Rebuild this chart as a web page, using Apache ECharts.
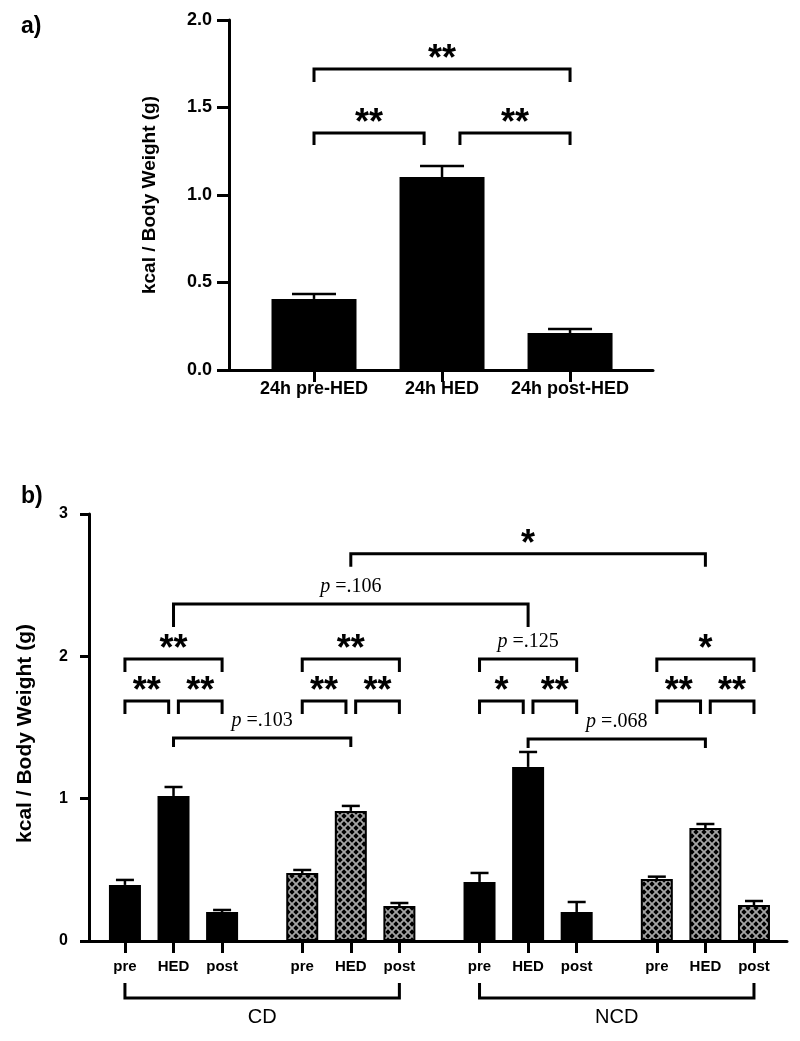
<!DOCTYPE html>
<html><head><meta charset="utf-8">
<script src="https://cdn.jsdelivr.net/npm/echarts@6/dist/echarts.min.js"></script>
<style>html,body{margin:0;padding:0;background:#fff}#c{width:800px;height:1041px}</style>
</head><body><div id="c"></div>
<script>
// ---------------- DATA ----------------
// Panel a
const catsA = ['24h pre-HED', '24h HED', '24h post-HED'];
const meanA = [0.406, 1.103, 0.211];
const semA  = [0.028, 0.063, 0.023];
// Panel b
const phasesB = ['pre', 'HED', 'post'];
const dietsB = ['CD', 'NCD'];
const cdSolidMean   = [0.394, 1.019, 0.204];
const cdSolidSem    = [0.035, 0.063, 0.014];
const cdHatchMean   = [0.478, 0.914, 0.246];
const cdHatchSem    = [0.021, 0.035, 0.021];
const ncdSolidMean  = [0.415, 1.223, 0.204];
const ncdSolidSem   = [0.063, 0.105, 0.070];
const ncdHatchMean  = [0.436, 0.794, 0.253];
const ncdHatchSem   = [0.016, 0.028, 0.028];
// significance annotations (bar indices, level on y axis, label)
const bracketsA = [
  {from: 0, to: 2, level: 1.72,  label: '**', leg: 13},
  {from: 0, to: 1, level: 1.354, label: '**', leg: 12, trim: 'end'},
  {from: 1, to: 2, level: 1.354, label: '**', leg: 12, trim: 'start'}
];
const bracketsB = [
  {from: 0, to: 1, level: 1.687, label: '**', leg: 13, trim: 'end'},
  {from: 1, to: 2, level: 1.687, label: '**', leg: 13, trim: 'start'},
  {from: 0, to: 2, level: 1.982, label: '**', leg: 13},
  {from: 3, to: 4, level: 1.687, label: '**', leg: 13, trim: 'end'},
  {from: 4, to: 5, level: 1.687, label: '**', leg: 13, trim: 'start'},
  {from: 3, to: 5, level: 1.982, label: '**', leg: 13},
  {from: 6, to: 7, level: 1.687, label: '*',  leg: 13, trim: 'end'},
  {from: 7, to: 8, level: 1.687, label: '**', leg: 13, trim: 'start'},
  {from: 6, to: 8, level: 1.982, label: 'p =.125', leg: 13},
  {from: 9, to: 10, level: 1.687, label: '**', leg: 13, trim: 'end'},
  {from: 10, to: 11, level: 1.687, label: '**', leg: 13, trim: 'start'},
  {from: 9, to: 11, level: 1.982, label: '*', leg: 13},
  {from: 1, to: 4, level: 1.427, label: 'p =.103', leg: 9},
  {from: 7, to: 10, level: 1.42, label: 'p =.068', leg: 9},
  {from: 1, to: 7, level: 2.368, label: 'p =.106', leg: 23},
  {from: 4, to: 10, level: 2.72, label: '*', leg: 13}
];

// ---------------- LAYOUT HELPERS ----------------
const GROUP_STEP = 3.65;       // spacing between bar groups in panel b (axis units)
const posA = catsA.map((c, i) => i);
const subgroupsB = [
  {mean: cdSolidMean, sem: cdSolidSem, hatch: false},
  {mean: cdHatchMean, sem: cdHatchSem, hatch: true},
  {mean: ncdSolidMean, sem: ncdSolidSem, hatch: false},
  {mean: ncdHatchMean, sem: ncdHatchSem, hatch: true}
];
const posB = [];
subgroupsB.forEach((g, gi) => phasesB.forEach((p, i) => posB.push(+(gi * GROUP_STEP + i).toFixed(4))));
const labelB = [];
subgroupsB.forEach(() => phasesB.forEach(p => labelB.push(p)));

function makeHatch() {
  const s = 8;
  const c = document.createElement('canvas'); c.width = s; c.height = s;
  const g = c.getContext('2d');
  g.fillStyle = '#a4a4a4'; g.fillRect(0, 0, s, s);
  g.fillStyle = '#000';
  const d = (cx, cy, r) => { g.beginPath(); g.moveTo(cx, cy - r); g.lineTo(cx + r, cy); g.lineTo(cx, cy + r); g.lineTo(cx - r, cy); g.closePath(); g.fill(); };
  [[0, 0], [s, 0], [0, s], [s, s], [s / 2, s / 2]].forEach(p => d(p[0], p[1], 2.7));
  return c;
}
const hatch = {image: makeHatch(), repeat: 'repeat'};

const STAR_FONT = 'bold 36px "Liberation Sans", Arial, sans-serif';
function labelEl(text, x, lineY) {
  if (text.charAt(0) === 'p') {
    return {type: 'text', x: x, y: lineY - 17, style: {
      text: '{i|p}' + text.slice(1), fill: '#000', align: 'center', verticalAlign: 'middle',
      fontFamily: '"Liberation Serif", "Times New Roman", serif', fontSize: 20,
      rich: {i: {fontStyle: 'italic', fontFamily: '"Liberation Serif", "Times New Roman", serif', fontSize: 20}}
    }};
  }
  return {type: 'text', x: x, y: lineY - 9, style: {
    text: text, fill: '#000', align: 'center', verticalAlign: 'middle', font: STAR_FONT
  }};
}

function bracketSeries(defs, pos, trimAmt, xIdx) {
  const data = defs.map(b => {
    let x1 = pos[b.from], x2 = pos[b.to];
    if (b.trim === 'end') x2 -= trimAmt;
    if (b.trim === 'start') x1 += trimAmt;
    return [x1, b.level, x2];
  });
  return {
    type: 'custom', xAxisIndex: xIdx, yAxisIndex: xIdx, data: data, z: 5, silent: true,
    encode: {x: [0, 2], y: 1},
    renderItem: (params, api) => {
      const b = defs[params.dataIndex];
      const a = api.coord([api.value(0), api.value(1)]);
      const c = api.coord([api.value(2), api.value(1)]);
      return {type: 'group', children: [
        {type: 'polyline', shape: {points: [[a[0], a[1] + b.leg], [a[0], a[1]], [c[0], c[1]], [c[0], c[1] + b.leg]]},
         style: {stroke: '#000', lineWidth: 3, fill: null, lineJoin: 'miter'}},
        labelEl(b.label, (a[0] + c[0]) / 2, a[1])
      ]};
    }
  };
}

function errSeries(data, capHalf, idx) {
  return {
    type: 'custom', xAxisIndex: idx, yAxisIndex: idx, data: data, z: 4, silent: true,
    encode: {x: 0, y: 1},
    renderItem: (params, api) => {
      const x = api.value(0), y = api.value(1), e = api.value(2);
      const p0 = api.coord([x, y]), p1 = api.coord([x, y + e]);
      return {type: 'group', children: [
        {type: 'line', shape: {x1: p0[0], y1: p0[1], x2: p1[0], y2: p1[1]}, style: {stroke: '#000', lineWidth: 2.5}},
        {type: 'line', shape: {x1: p1[0] - capHalf, y1: p1[1], x2: p1[0] + capHalf, y2: p1[1]}, style: {stroke: '#000', lineWidth: 2.5}}
      ]};
    }
  };
}

// ---------------- SERIES DATA ----------------
const barA = meanA.map((v, i) => [posA[i], v]);
const errA = meanA.map((v, i) => [posA[i], v, semA[i]]);
const solidB = [], hatchB = [], errB = [];
subgroupsB.forEach((g, gi) => g.mean.forEach((v, i) => {
  const x = posB[gi * 3 + i];
  (g.hatch ? hatchB : solidB).push([x, v]);
  errB.push([x, v, g.sem[i]]);
}));
const dietRanges = dietsB.map((d, di) => [posB[di * 6], 0, posB[di * 6 + 5]]);

const axisLineStyle = {show: true, onZero: false, lineStyle: {color: '#000', width: 3}};
const tickStyle = (len) => ({show: true, inside: false, length: len, lineStyle: {color: '#000', width: 3}});

const option = {
  animation: false,
  backgroundColor: '#fff',
  title: [
    {text: 'a)', left: 16, top: 10, textStyle: {fontFamily: '"Liberation Sans", Arial', fontWeight: 'bold', fontSize: 23, color: '#000'}},
    {text: 'b)', left: 16, top: 480, textStyle: {fontFamily: '"Liberation Sans", Arial', fontWeight: 'bold', fontSize: 23, color: '#000'}}
  ],
  grid: [
    {left: 229, top: 20, width: 424, height: 350},
    {left: 89, top: 514, width: 698, height: 427}
  ],
  xAxis: [
    {type: 'value', gridIndex: 0, min: -0.664, max: 2.648, splitLine: {show: false},
     axisLine: axisLineStyle, axisTick: Object.assign(tickStyle(12), {customValues: posA}),
     axisLabel: {customValues: posA, margin: 10, color: '#000', fontWeight: 'bold', fontSize: 18, fontFamily: '"Liberation Sans", Arial',
       formatter: v => { const i = posA.findIndex(p => Math.abs(p - v) < 1e-6); return i >= 0 ? catsA[i] : ''; }}},
    {type: 'value', gridIndex: 1, min: -0.74, max: 13.63, splitLine: {show: false},
     axisLine: axisLineStyle, axisTick: Object.assign(tickStyle(12), {customValues: posB}),
     axisLabel: {customValues: posB, margin: 18, color: '#000', fontWeight: 'bold', fontSize: 15, fontFamily: '"Liberation Sans", Arial',
       formatter: v => { const i = posB.findIndex(p => Math.abs(p - v) < 1e-6); return i >= 0 ? labelB[i] : ''; }}}
  ],
  yAxis: [
    {type: 'value', gridIndex: 0, min: 0, max: 2, interval: 0.5, splitLine: {show: false},
     axisLine: axisLineStyle, axisTick: tickStyle(12),
     axisLabel: {margin: 17, color: '#000', fontWeight: 'bold', fontSize: 18, fontFamily: '"Liberation Sans", Arial', formatter: v => v.toFixed(1)},
     name: 'kcal / Body Weight (g)', nameLocation: 'middle', nameGap: 70,
     nameTextStyle: {color: '#000', fontWeight: 'bold', fontSize: 19, lineHeight: 19, fontFamily: '"Liberation Sans", Arial'}},
    {type: 'value', gridIndex: 1, min: 0, max: 3, interval: 1, splitLine: {show: false},
     axisLine: axisLineStyle, axisTick: tickStyle(9),
     axisLabel: {margin: 21, color: '#000', fontWeight: 'bold', fontSize: 16, fontFamily: '"Liberation Sans", Arial'},
     name: 'kcal / Body Weight (g)', nameLocation: 'middle', nameGap: 53,
     nameTextStyle: {color: '#000', fontWeight: 'bold', fontSize: 21, lineHeight: 21, padding: [0, 12, 0, 0], fontFamily: '"Liberation Sans", Arial'}}
  ],
  series: [
    {type: 'bar', name: '24h', xAxisIndex: 0, yAxisIndex: 0, data: barA, barWidth: 85,
     itemStyle: {color: '#000'}, silent: true},
    errSeries(errA, 22, 0),
    bracketSeries(bracketsA, posA, 0.14, 0),
    {type: 'bar', name: 'solid', xAxisIndex: 1, yAxisIndex: 1, data: solidB, barWidth: 32, barGap: '-100%',
     itemStyle: {color: '#000'}, silent: true},
    {type: 'bar', name: 'hatched', xAxisIndex: 1, yAxisIndex: 1, data: hatchB, barWidth: 32, barGap: '-100%',
     itemStyle: {color: hatch, borderColor: '#000', borderWidth: 2}, silent: true},
    errSeries(errB, 9, 1),
    bracketSeries(bracketsB, posB, 0.1, 1),
    {type: 'custom', xAxisIndex: 1, yAxisIndex: 1, data: dietRanges, silent: true, encode: {x: [0, 2], y: 1},
     renderItem: (params, api) => {
       const a = api.coord([api.value(0), 0]);
       const c = api.coord([api.value(2), 0]);
       const y0 = a[1] + 42, y1 = a[1] + 57;
       return {type: 'group', children: [
         {type: 'polyline', shape: {points: [[a[0], y0], [a[0], y1], [c[0], y1], [c[0], y0]]},
          style: {stroke: '#000', lineWidth: 3, fill: null}},
         {type: 'text', x: (a[0] + c[0]) / 2, y: a[1] + 76, style: {text: dietsB[params.dataIndex], fill: '#000',
          align: 'center', verticalAlign: 'middle', font: '20px "Liberation Sans", Arial, sans-serif'}}
       ]};
     }}
  ]
};

const chart = echarts.init(document.getElementById('c'));
chart.setOption(option);
</script>
</body></html>
